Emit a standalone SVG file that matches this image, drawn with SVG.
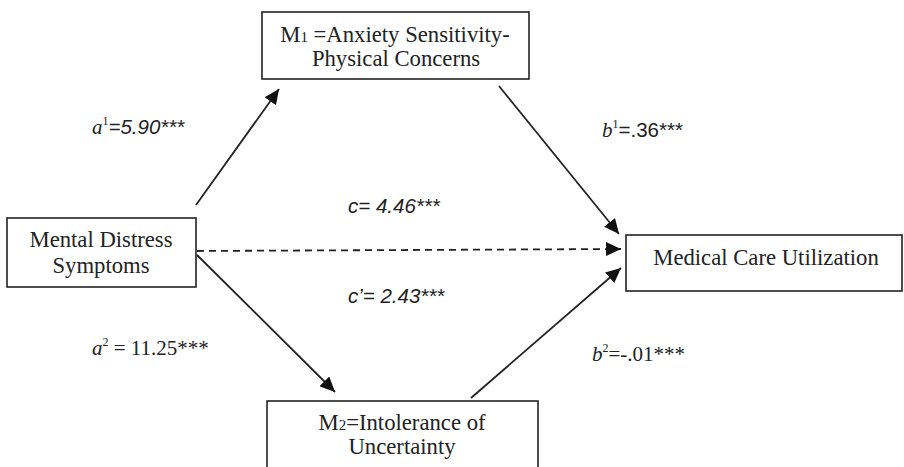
<svg xmlns="http://www.w3.org/2000/svg" width="904" height="467" viewBox="0 0 904 467">
<style>
.box{fill:#fff;stroke:#222;stroke-width:1.6}
.t{font-family:"Liberation Serif","Times New Roman",serif;font-size:22.7px;fill:#222}
.lbl{font-family:"Liberation Serif","Times New Roman",serif;font-size:21px;fill:#222}
.it{font-style:italic}
.sans{font-family:"Liberation Sans",Arial,sans-serif;font-size:20.5px}
.sup{font-size:12px}
.edge{stroke:#222;stroke-width:1.8;fill:none}
.dash{stroke-dasharray:7,5}
</style>
<defs>
<marker id="ah" markerUnits="userSpaceOnUse" markerWidth="16" markerHeight="14" refX="15" refY="7" orient="auto">
<path d="M0,0 L15,7 L0,14 z" fill="#111"/>
</marker>
</defs>
<g id="connectors">
<line class="edge" x1="196" y1="205" x2="279" y2="89" marker-end="url(#ah)"/>
<line class="edge" x1="499" y1="86" x2="619" y2="234" marker-end="url(#ah)"/>
<line class="edge dash" x1="197" y1="251" x2="621" y2="249" marker-end="url(#ah)"/>
<line class="edge" x1="197" y1="255" x2="335" y2="392" marker-end="url(#ah)"/>
<line class="edge" x1="471" y1="398" x2="621" y2="268" marker-end="url(#ah)"/>
</g>
<g id="node-m1">
<rect class="box" x="262" y="12" width="267" height="67"/>
<text class="t" x="395" y="42" text-anchor="middle">M<tspan font-size="15">1</tspan> =Anxiety Sensitivity-</text>
<text class="t" x="396" y="66" text-anchor="middle">Physical Concerns</text>
</g>
<g id="node-x">
<rect class="box" x="7" y="218" width="189" height="69"/>
<text class="t" x="101" y="247" text-anchor="middle">Mental Distress</text>
<text class="t" x="101" y="273" text-anchor="middle">Symptoms</text>
</g>
<g id="node-y">
<rect class="box" x="626" y="235" width="276" height="56"/>
<text class="t" x="766" y="265" text-anchor="middle">Medical Care Utilization</text>
</g>
<g id="node-m2">
<rect class="box" x="267" y="401" width="271" height="80"/>
<text class="t" x="402" y="430" text-anchor="middle">M<tspan font-size="15">2</tspan>=Intolerance of</text>
<text class="t" x="402" y="454" text-anchor="middle">Uncertainty</text>
</g>
<g id="labels">
<text class="lbl" x="92" y="134"><tspan class="it">a</tspan><tspan class="sup" dy="-9">1</tspan><tspan class="sans it" dy="9">=5.90***</tspan></text>
<text class="lbl" x="348" y="213"><tspan class="sans it">c= 4.46***</tspan></text>
<text class="lbl" x="348" y="303"><tspan class="sans it">c’= 2.43***</tspan></text>
<text class="lbl" x="92" y="355"><tspan class="it">a</tspan><tspan class="sup" dy="-9">2</tspan><tspan dy="9"> = 11.25***</tspan></text>
<text class="lbl" x="602" y="137"><tspan class="it">b</tspan><tspan class="sup" dy="-9">1</tspan><tspan class="sans" dy="9">=.36***</tspan></text>
<text class="lbl" x="592" y="361"><tspan class="it">b</tspan><tspan class="sup" dy="-9">2</tspan><tspan dy="9">=-.01***</tspan></text>
</g>
</svg>
